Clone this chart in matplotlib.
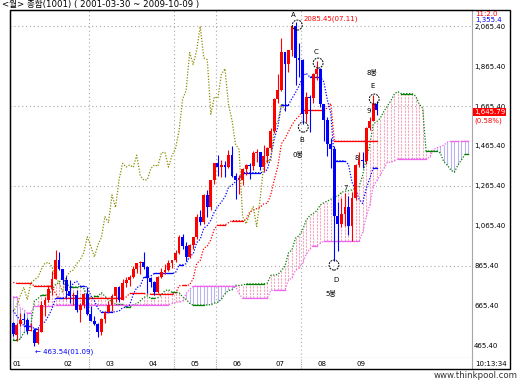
import numpy as np
import matplotlib.pyplot as plt
from matplotlib.patches import Ellipse, Rectangle

plt.rcParams['font.family'] = ['DejaVu Sans', 'Noto Sans CJK KR']

# monthly KOSPI candles, 2001-03 .. 2009-10
opens = [580, 520, 574, 596, 596, 541, 545, 479, 537, 672,
         693, 752, 800, 895, 849, 796, 742, 715, 718, 647, 671, 725,
         627, 590, 575, 536, 601, 635, 669, 716, 761, 697, 782, 796,
         810, 849, 880, 884, 862, 803, 785, 735, 811, 835, 845, 878,
         896, 932, 1011, 965, 911, 970, 1008, 1112, 1083, 1221, 1158, 1297,
         1379, 1360, 1371, 1359, 1419, 1317, 1295, 1297, 1352, 1371, 1364, 1432,
         1434, 1360, 1417, 1453, 1542, 1700, 1743, 1933, 1873, 1946, 2063, 1906,
         1897, 1624, 1711, 1704, 1825, 1852, 1674, 1594, 1474, 1448, 1113, 1076,
         1124, 1162, 1063, 1206, 1369, 1395, 1390, 1557, 1591, 1673]
highs = [585, 580, 632, 628, 606, 582, 553, 555, 692, 708,
         768, 838, 943, 937, 849, 814, 793, 735, 745, 678, 730, 758,
         666, 615, 580, 606, 636, 690, 724, 762, 767, 800, 808, 822,
         866, 882, 892, 936, 867, 808, 790, 814, 857, 876, 897, 896,
         944, 1022, 1023, 984, 974, 1012, 1125, 1145, 1225, 1245, 1297, 1382,
         1421, 1393, 1392, 1445, 1464, 1330, 1322, 1356, 1376, 1379, 1442, 1449,
         1436, 1468, 1460, 1553, 1706, 1825, 2004, 1937, 1947, 2065, 2085, 1980,
         1901, 1736, 1719, 1830, 1889, 1853, 1676, 1609, 1507, 1464, 1183, 1203,
         1229, 1216, 1237, 1373, 1433, 1437, 1560, 1612, 1719, 1690]
lows = [515, 491, 565, 574, 527, 539, 464, 476, 533, 615,
        685, 720, 800, 846, 775, 701, 680, 672, 634, 584, 654, 621,
        588, 570, 512, 518, 580, 631, 640, 683, 684, 695, 760, 764,
        807, 830, 826, 850, 728, 758, 719, 730, 806, 826, 840, 853,
        884, 925, 949, 890, 905, 950, 1000, 1070, 1077, 1110, 1145, 1276,
        1315, 1312, 1308, 1355, 1312, 1200, 1226, 1270, 1322, 1300, 1345, 1386,
        1345, 1340, 1380, 1446, 1532, 1682, 1738, 1638, 1835, 1915, 1772, 1810,
        1575, 1586, 1537, 1680, 1797, 1661, 1488, 1413, 1356, 892, 939, 1062,
        1066, 1018, 992, 1195, 1360, 1355, 1377, 1546, 1590, 1620]
closes = [523, 572, 595, 595, 541, 545, 479, 535, 671, 693,
          752, 799, 893, 850, 796, 742, 716, 718, 646, 670, 725, 627,
          591, 575, 535, 600, 634, 669, 716, 759, 697, 781, 796, 810,
          848, 880, 883, 862, 803, 785, 735, 811, 835, 845, 878, 896,
          932, 1011, 965, 911, 970, 1008, 1112, 1083, 1221, 1158, 1297, 1379,
          1360, 1371, 1359, 1419, 1317, 1295, 1297, 1352, 1371, 1364, 1432, 1434,
          1360, 1417, 1453, 1542, 1700, 1743, 1933, 1873, 1946, 2064, 1906, 1897,
          1624, 1711, 1704, 1825, 1852, 1674, 1594, 1474, 1448, 1113, 1076, 1124,
          1162, 1063, 1206, 1369, 1395, 1390, 1557, 1591, 1673, 1645.79]

# ichimoku lines
tenkan = [645, 615, 596, 566, 566, 566, 552, 552, 578, 586,
          616, 651, 704, 704, 704, 710, 738, 779, 789, 764, 764, 761,
          717, 692, 653, 635, 635, 635, 635, 637, 640, 656, 660, 670,
          723, 757, 766, 810, 810, 816, 828, 828, 828, 828, 828, 828,
          832, 871, 871, 877, 915, 925, 983, 999, 1055, 1068, 1094, 1136,
          1163, 1186, 1211, 1258, 1271, 1287, 1305, 1332, 1332, 1332, 1332, 1332,
          1332, 1334, 1347, 1412, 1503, 1563, 1672, 1672, 1672, 1703, 1733, 1766,
          1809, 1830, 1811, 1811, 1811, 1811, 1787, 1697, 1629, 1391, 1391, 1391,
          1391, 1373, 1284, 1251, 1200, 1178, 1250, 1302, 1356, 1356]
kijun = [783, 779, 779, 779, 779, 779, 765, 765, 765, 765,
         765, 765, 727, 704, 704, 704, 704, 704, 704, 704, 704, 704,
         704, 704, 704, 704, 704, 704, 704, 704, 704, 704, 710, 728,
         728, 728, 728, 728, 725, 724, 724, 724, 724, 724, 724, 724,
         728, 767, 768, 768, 771, 802, 878, 893, 954, 965, 996, 1051,
         1070, 1070, 1070, 1082, 1092, 1092, 1092, 1092, 1097, 1135, 1145, 1152,
         1159, 1176, 1179, 1222, 1298, 1365, 1477, 1502, 1537, 1571, 1598, 1615,
         1643, 1643, 1643, 1643, 1643, 1643, 1643, 1656, 1678, 1489, 1489, 1489,
         1489, 1489, 1489, 1489, 1489, 1489, 1489, 1489, 1489, 1489]
# leading spans, already shifted 26 months ahead (130 slots)
span_a = [496, 496, 500, 532, 539, 567, 692, 702, 720, 720, 722, 745, 773,
          783, 808, 783, 760, 760, 760, 763, 753, 716, 702, 714, 714, 732,
          714, 697, 688, 673, 673, 673, 659, 659, 672, 676,
          691, 708, 716, 704, 704, 707, 721, 742, 747, 734, 734, 733,
          711, 698, 679, 670, 670, 670, 670, 671, 672, 680, 685, 699,
          726, 743, 747, 769, 768, 770, 776, 776, 776, 776, 776, 776,
          780, 819, 820, 823, 843, 864, 931, 946, 1005, 1017, 1045, 1094,
          1117, 1128, 1141, 1170, 1182, 1190, 1199, 1212, 1215, 1234, 1239, 1242,
          1246, 1255, 1263, 1317, 1401, 1464, 1575, 1587, 1605, 1637, 1666, 1691,
          1726, 1737, 1727, 1727, 1727, 1727, 1715, 1677, 1654, 1440, 1440, 1440,
          1440, 1431, 1387, 1370, 1345, 1334, 1370, 1396, 1423, 1423]
span_b = [711, 711, 654, 647, 632, 632, 664, 664, 664, 664, 664, 664, 672,
          672, 672, 672, 672, 672, 672, 672, 672, 672, 672, 672, 672, 672,
          672, 672, 672, 672, 672, 672, 672, 672, 672, 672,
          672, 672, 672, 672, 672, 672, 672, 672, 672, 678, 683, 686,
          688, 728, 748, 765, 765, 765, 765, 765, 765, 765, 765, 765,
          765, 765, 765, 765, 727, 704, 704, 704, 704, 704, 704, 704,
          704, 743, 744, 744, 744, 744, 795, 805, 845, 855, 881, 923,
          949, 967, 967, 979, 988, 988, 988, 988, 988, 988, 988, 988,
          988, 988, 988, 1033, 1109, 1169, 1261, 1292, 1318, 1353, 1384, 1385,
          1390, 1402, 1402, 1402, 1402, 1402, 1402, 1402, 1402, 1402, 1408, 1446,
          1456, 1463, 1469, 1485, 1488, 1488, 1488, 1489, 1489, 1489]

year_labels = ['01', '02', '03', '04', '05', '06', '07', '08', '09']
year_label_pos = [1, 15.5, 27.5, 39.5, 51.5, 63.5, 75.5, 87.5, 98.5]
year_breaks = [21.5, 45.5, 57.5, 81.5]
price_ticks = [2065.4, 1865.4, 1665.4, 1465.4, 1265.4, 1065.4, 865.4, 665.4, 465.4]
price_labels = ['2,065.40', '1,865.40', '1,665.40', '1,465.40', '1,265.40',
                '1,065.40', '865.40', '665.40', '465.40']
grid_prices = [2065.4, 1665.4, 1265.4, 865.4]

W, H = 520, 382
fig = plt.figure(figsize=(W / 100, H / 100), dpi=100)
fig.patch.set_facecolor('white')


def fx(px):
    return px / W


def fy(py):
    return 1 - py / H


ax = fig.add_axes([fx(10), fy(358), fx(472) - fx(10), fy(10) - fy(358)])
strip = fig.add_axes([fx(10), fy(369), fx(472) - fx(10), fy(358) - fy(369)], sharex=ax)

n = len(closes)
idx = np.arange(n)
pos = np.arange(len(span_a))
ax.set_xlim(-0.9, 130)
ax.set_ylim(405.4, 2145.4)

GRID = '#a8a8a8'
DOT = (0, (1, 1.3))

for g in grid_prices:
    ax.axhline(g, color=GRID, lw=0.8, ls=(0, (1, 2.5)), zorder=0)
for b in year_breaks:
    ax.axvline(b, color=GRID, lw=0.8, ls=(0, (1, 2.5)), zorder=0)
    strip.axvline(b, color=GRID, lw=0.8, ls=(0, (1, 1)))

# cloud
sa = np.array(span_a)
sb = np.array(span_b)
up = sa >= sb
ax.vlines(pos[up], sb[up], sa[up], color='#f6a6bf', lw=0.8, ls=(0, (2, 1)), zorder=1)
ax.vlines(pos[~up], sa[~up], sb[~up], color='#b9b4ef', lw=0.8, zorder=1)


def draw_line(x, y, color):
    ax.plot(x, y, color=color, lw=0.9, ls=DOT, zorder=2)
    # flat stretches come out solid on this chart
    start = 0
    for k in range(1, len(y) + 1):
        if k == len(y) or y[k] != y[start]:
            if k - start > 1:
                ax.plot([x[start], x[k - 1]], [y[start], y[start]], color=color, lw=0.9, zorder=2)
            start = k


draw_line(pos, span_a, '#008000')
draw_line(pos, span_b, '#ee66ee')
draw_line(idx, kijun, '#ff0000')
draw_line(idx, tenkan, '#0000ff')
# lagging span: closes moved back 26 months
ax.plot(idx[26:] - 26, closes[26:], color='#8b8b00', lw=0.9, ls=DOT, zorder=2)

# candles
o = np.array(opens, float)
c = np.array(closes, float)
colors = np.where(c >= o, '#ff0000', '#0000ff')
ax.vlines(idx, lows, highs, color=colors, lw=0.8, zorder=3)
body = np.maximum(np.abs(c - o), 5)
ax.bar(idx, body, bottom=np.minimum(o, c), width=0.8, color=colors, lw=0, zorder=3)

# axes cosmetics
for s in ['left', 'top']:
    ax.spines[s].set_color('black')
for s in ['right', 'bottom']:
    ax.spines[s].set_color('#b0a0b0')
    ax.spines[s].set_linestyle((0, (2, 1)))
ax.set_xticks([])
ax.yaxis.tick_right()
ax.set_yticks(price_ticks)
ax.set_yticklabels(price_labels)
ax.tick_params(axis='y', length=0, pad=1.5, labelsize=5)

strip.set_yticks([])
strip.tick_params(axis='x', length=0, labelbottom=False)
for s in ['left', 'bottom']:
    strip.spines[s].set_visible(False)
strip.spines['top'].set_visible(False)
strip.spines['right'].set_color('#b0a0b0')
strip.spines['right'].set_linestyle((0, (2, 1)))
for lab, p in zip(year_labels, year_label_pos):
    strip.text(p, 0.5, lab, fontsize=5, ha='center', va='center',
               transform=strip.get_xaxis_transform())

fig.add_artist(Rectangle((fx(10), fy(369)), fx(510) - fx(10), fy(10) - fy(369),
                         transform=fig.transFigure, fill=False, ec='black', lw=1))

# annotations
circ = dict(fill=False, ec='black', lw=0.7, ls=(0, (2, 1)), zorder=4)
for cx, cy in [(80.5, 2070), (86.4, 1880), (82.2, 1560), (90.9, 870), (102.3, 1700)]:
    ax.add_patch(Ellipse((cx, cy), 2.8, 50, **circ))
for tx, ty, t in [(79.3, 2120, 'A'), (85.8, 1935, 'C'), (81.9, 1495, 'B'),
                  (80.7, 1425, '0봉'), (91.5, 795, 'D'), (90.1, 730, '5봉'),
                  (101.7, 1835, '8봉'), (101.7, 1765, 'E'), (94.2, 1255, '7'),
                  (97.4, 1405, '8'), (100.7, 1640, '9')]:
    ax.text(tx, ty, t, fontsize=5, ha='center', va='center', zorder=5)
ax.text(82.4, 2100, '2085.45(07.11)', color='#ff0000', fontsize=5, va='center', zorder=5)
ax.text(6.2, 435, '← 463.54(01.09)', color='#0000ff', fontsize=5, va='center', zorder=5)

ax.text(1.004, 1635, '1,645.79', transform=ax.get_yaxis_transform(), color='white',
        fontsize=5, va='center', ha='left', clip_on=False,
        bbox=dict(boxstyle='square,pad=0.12', fc='#ff0000', ec='none'))
ax.text(1.006, 1590, '(0.58%)', transform=ax.get_yaxis_transform(), color='#ff0000',
        fontsize=5, va='center', ha='left', clip_on=False)

fig.text(fx(475), fy(14), '11:2.0', color='#ff0000', fontsize=5, va='center')
fig.text(fx(475), fy(20), '1,355.4', color='#0000ff', fontsize=5, va='center')
fig.text(fx(491), fy(364), '10:13:34', fontsize=5, ha='center', va='center')

fig.text(fx(2), fy(5), '<월> 종합(1001) ( 2001-03-30 ~ 2009-10-09 )', fontsize=6.2, va='center')
fig.text(fx(518), fy(376), 'www.thinkpool.com', fontsize=6.2, ha='right', va='center',
         color='#333333')

fig.savefig('out.png', dpi=100)
